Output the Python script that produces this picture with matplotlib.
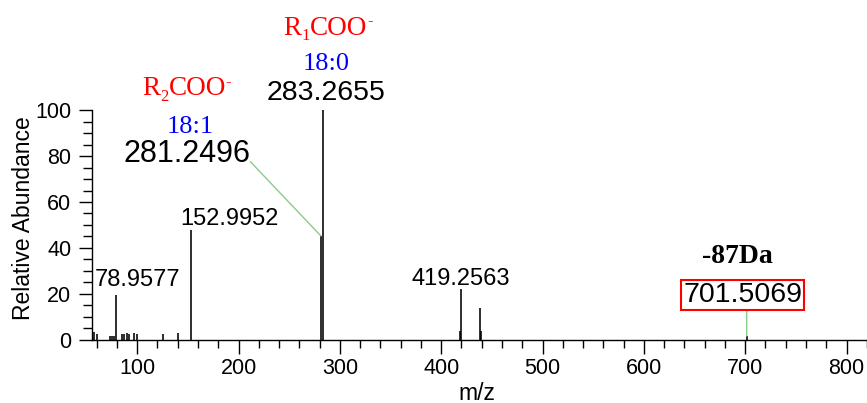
import matplotlib
matplotlib.use("Agg")
import matplotlib.pyplot as plt
from matplotlib.ticker import MultipleLocator, FixedLocator

plt.rcParams["font.family"] = ["Liberation Sans", "DejaVu Sans"]

# MS/MS spectrum peaks (m/z, relative abundance %)
mz = [57.4, 60.8, 72.7, 75.3, 77.0, 78.9577, 84.6, 87.2, 89.6, 91.6, 97.3, 99.7,
      125.4, 140.2, 152.9952, 281.2496, 283.2655, 418.1, 419.2563, 437.9, 439.6,
      701.5069]
abundance = [3.2, 2.2, 1.7, 1.7, 1.7, 19.5, 2.2, 2.2, 2.9, 2.2, 2.9, 2.2,
             2.2, 3.0, 47.8, 45.2, 100.0, 3.6, 21.9, 13.7, 3.5, 1.5]

x_major = [100, 200, 300, 400, 500, 600, 700, 800]
y_major = [0, 20, 40, 60, 80, 100]

# labelled peaks
lab_small = {78.9577: (15.8, 6.5), 152.9952: (28.0, 3.6), 419.2563: (0.3, 3.1)}
prec_mz = 701.5069
fa1_mz = 283.2655   # R1COO-, 18:0
fa2_mz = 281.2496   # R2COO-, 18:1

height = dict(zip(mz, abundance))

W, H = 867, 403
fig = plt.figure(figsize=(W / 100, H / 100), dpi=100)
ax = fig.add_axes([91.6 / W, 1 - 339.5 / H, 775.2 / W, 229.2 / H])

ax.vlines(mz, 0, abundance, colors="black", lw=1.15, clip_on=False)

ax.set_xlim(55, 820)
ax.set_ylim(0, 100)
ax.xaxis.set_major_locator(FixedLocator(x_major))
ax.xaxis.set_minor_locator(MultipleLocator(20))
ax.yaxis.set_major_locator(FixedLocator(y_major))
ax.yaxis.set_minor_locator(MultipleLocator(5))

for s in ("top", "right"):
    ax.spines[s].set_visible(False)
for s in ("left", "bottom"):
    ax.spines[s].set_linewidth(1.0)

ax.tick_params(axis="both", which="both", direction="out", width=1.0,
               colors="black", labelsize=15.5)
ax.tick_params(axis="x", which="major", length=10, pad=3)
ax.tick_params(axis="x", which="minor", length=6)
ax.tick_params(axis="y", which="major", length=9.5, pad=5)
ax.tick_params(axis="y", which="minor", length=6.5)

fig.text(24 / W, 1 - 218.5 / H, "Relative Abundance", rotation=90,
         ha="center", va="center", fontsize=16.5)
fig.text(476.7 / W, 1 - 393 / H, "m/z", ha="center", va="center", fontsize=16.5)

# small peak labels
for m, (dx, dy) in lab_small.items():
    ax.annotate(f"{m:.4f}", xy=(m, height[m]), xytext=(dx, dy),
                textcoords="offset points", ha="center", va="baseline",
                fontsize=17)

serif = ["Liberation Serif", "DejaVu Serif"]
green = "#88cc88"


def carboxylate(xy, offset, index, size=19.5, small=12):
    """Draw 'R<sub>index</sub>COO<sup>-</sup>' in red, starting at offset."""
    kw = dict(textcoords="offset points", color="red", family=serif,
              annotation_clip=False)
    r = ax.annotate("R", xy=xy, xytext=offset, ha="left", va="bottom",
                    fontsize=size, **kw)
    sub = ax.annotate(index, xy=(1, 0), xycoords=r, xytext=(0.2, -2.2),
                      ha="left", va="bottom", fontsize=small, **kw)
    coo = ax.annotate("COO", xy=(1, 0), xycoords=(sub, r), xytext=(0.2, 0),
                      ha="left", va="bottom", fontsize=size, **kw)
    ax.annotate("-", xy=(1, 1), xycoords=coo, xytext=(-0.4, 1.6),
                ha="left", va="top", fontsize=small, **kw)


# 283.2655 - base peak
h1 = height[fa1_mz]
ax.annotate(f"{fa1_mz:.4f}", xy=(fa1_mz, h1), xytext=(2.5, 7.2),
            textcoords="offset points", ha="center", va="baseline",
            fontsize=20.5, annotation_clip=False)
ax.annotate("18:0", xy=(fa1_mz, h1), xytext=(2.5, 29.0),
            textcoords="offset points", ha="center", va="baseline",
            fontsize=19, color="blue", family=serif, annotation_clip=False)
carboxylate((fa1_mz, h1), (-28.5, 50.2), "1")

# 281.2496 with leader line
h2 = height[fa2_mz]
ax.annotate("", xy=(fa2_mz, h2), xytext=(-50.8, 53.5),
            textcoords="offset points",
            arrowprops=dict(arrowstyle="-", color=green, lw=1.0,
                            shrinkA=0, shrinkB=0))
ax.annotate(f"{fa2_mz:.4f}", xy=(fa2_mz, h2), xytext=(-96.5, 53.3),
            textcoords="offset points", ha="center", va="baseline",
            fontsize=22)
ax.annotate("18:1", xy=(fa2_mz, h2), xytext=(-94.3, 74.2),
            textcoords="offset points", ha="center", va="baseline",
            fontsize=19, color="blue", family=serif)
carboxylate((fa2_mz, h2), (-128.9, 96.8), "2")

# precursor fragment 701.5069 (-87 Da)
hp = height[prec_mz]
ax.annotate("", xy=(prec_mz, hp), xytext=(0, 18.7),
            textcoords="offset points",
            arrowprops=dict(arrowstyle="-", color=green, lw=1.0,
                            shrinkA=0, shrinkB=0))
ax.annotate(f"{prec_mz:.4f}", xy=(prec_mz, hp), xytext=(-2.9, 24.5),
            textcoords="offset points", ha="center", va="baseline",
            fontsize=20.5,
            bbox=dict(boxstyle="square,pad=0.06", fc="white", ec="red", lw=1.5))
ax.annotate("-87Da", xy=(prec_mz, hp), xytext=(-6.5, 52.6),
            textcoords="offset points", ha="center", va="baseline",
            fontsize=20, fontweight="bold", family=serif)

fig.savefig("out.png", dpi=100)
